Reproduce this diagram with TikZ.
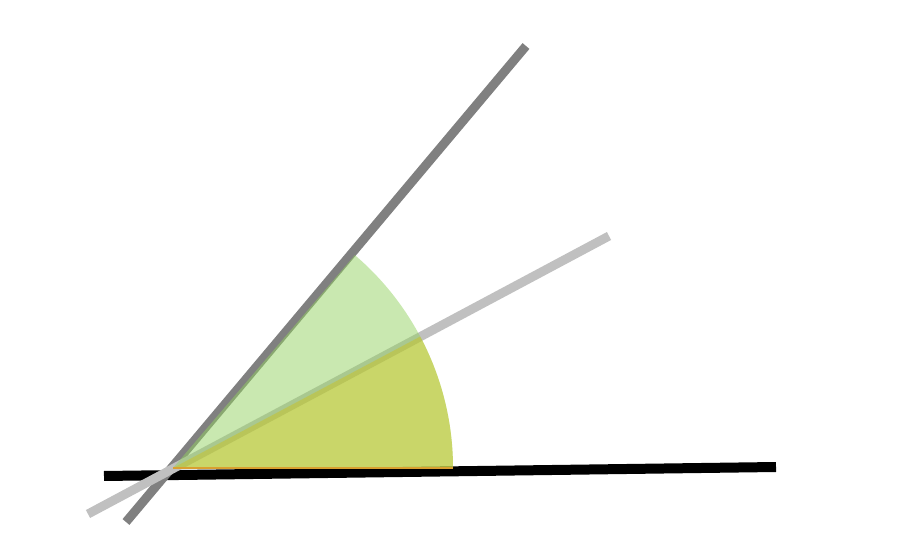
\documentclass[tikz,border=0pt]{standalone}
\usetikzlibrary{calc}
\definecolor{rayblack}{HTML}{000000}
\definecolor{raydark}{HTML}{808080}
\definecolor{raylight}{HTML}{C0C0C0}
\definecolor{wedgegreen}{HTML}{93D161}
\definecolor{wedgeyellow}{HTML}{C9C424}
\definecolor{wedgeedge}{HTML}{D9A030}

\begin{document}
\begin{tikzpicture}[
  x=0.02cm, y=-0.02cm,
  ray/.style={line width=0.18cm, line cap=butt},
]

% Frame
\useasboundingbox (0,0) rectangle (900,547);

% === Ends of the three lines ===
\coordinate (B0) at (104,476);
\coordinate (B1) at (776,467);
\coordinate (D0) at (126,522);
\coordinate (D1) at (526,46);
\coordinate (L0) at (88,514);
\coordinate (L1) at (609,236);

% Vertex of the angle
\coordinate (O) at (173,468);

% === Lines ===
\draw[ray, rayblack, line width=0.2cm] (B0) -- (B1);
\draw[ray, raydark] (D0) -- (D1);
\draw[ray, raylight] (L0) -- (L1);

% === Angle wedges (y runs downward, so angles are negative) ===
% whole angle, up to the dark line
\fill[wedgegreen, fill opacity=0.5]
  (O) -- ++(0:280) arc[start angle=0, end angle=-49.5, radius=280] -- cycle;
% lower part, up to the light line
\fill[wedgeyellow, fill opacity=0.5]
  (O) -- ++(0:280) arc[start angle=0, end angle=-28, radius=280] -- cycle;
\draw[wedgeedge, line width=0.6pt] (O) -- ++(0:280);

\end{tikzpicture}
\end{document}
